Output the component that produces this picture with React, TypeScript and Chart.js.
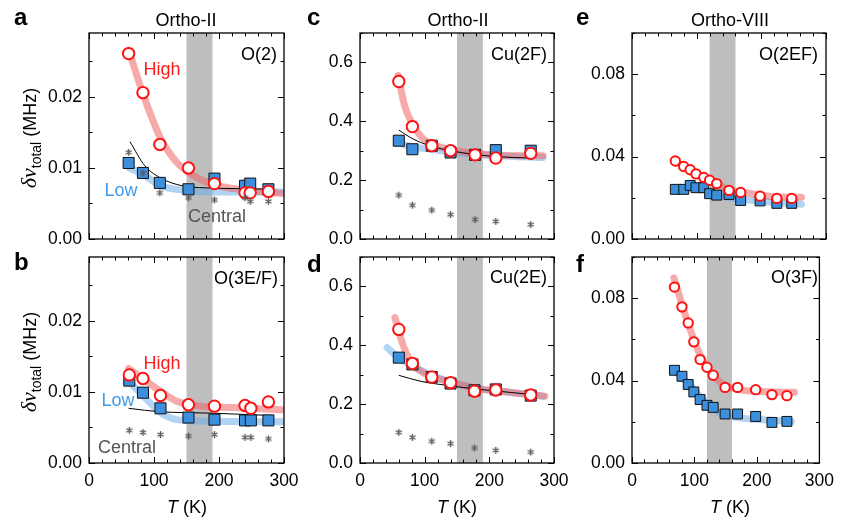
import React, { useEffect, useRef } from 'react';
import { Chart, registerables } from 'chart.js';

Chart.register(...registerables);

const FONT = '"Liberation Sans", Arial, Helvetica, sans-serif';

// ---------- Panel a : Ortho-II, O(2) ----------
const aT = [61, 83, 109, 153, 193, 240, 248, 276];
const aHigh = [0.0261, 0.0206, 0.0133, 0.01, 0.0078, 0.0065, 0.0065, 0.0067];
const aLow = [0.0107, 0.0093, 0.0079, 0.007, 0.0085, 0.0075, 0.0078, 0.007];
const aCentral = [0.0122, 0.0093, 0.0065, 0.0058, 0.0055, 0.0058, 0.0053, 0.0053];
const aFitT = [63, 86, 112, 143, 179, 225, 279];
const aFit = [0.0137, 0.0103, 0.0085, 0.0075, 0.0072, 0.0071, 0.007];
const aHighFitT = [61, 84, 110, 135, 161, 190, 222, 263, 297];
const aHighFit = [0.0266, 0.0202, 0.0142, 0.0108, 0.0089, 0.0077, 0.0071, 0.0067, 0.0064];
const aLowFitT = [62, 83, 110, 153, 200, 250, 297];
const aLowFit = [0.01, 0.0091, 0.0075, 0.0068, 0.0066, 0.0066, 0.0066];

// ---------- Panel b : Ortho-II, O(3E/F) ----------
const bT = [62, 83, 110, 153, 193, 240, 249, 276];
const bHigh = [0.0124, 0.0119, 0.0095, 0.0082, 0.008, 0.0081, 0.0077, 0.0086];
const bLow = [0.0116, 0.0099, 0.0077, 0.0064, 0.0061, 0.006, 0.006, 0.006];
const bCentral = [0.0046, 0.0043, 0.004, 0.0038, 0.004, 0.0036, 0.0036, 0.0034];
const bFitT = [61, 110, 150, 193, 278];
const bFit = [0.0077, 0.0072, 0.0071, 0.007, 0.0067];
const bHighFitT = [61, 84, 110, 135, 171, 222, 297];
const bHighFit = [0.0133, 0.0118, 0.0101, 0.0087, 0.008, 0.0078, 0.0075];
const bLowFitT = [61, 84, 110, 135, 171, 297];
const bLowFit = [0.0115, 0.0094, 0.0071, 0.0061, 0.0059, 0.0058];

// ---------- Panel c : Ortho-II, Cu(2F) ----------
const cT = [60, 81, 111, 140, 178, 210, 264];
const cHigh = [0.535, 0.382, 0.317, 0.3, 0.286, 0.275, 0.291];
const cLow = [0.334, 0.305, 0.317, 0.294, 0.286, 0.302, 0.3];
const cCentral = [0.149, 0.115, 0.098, 0.083, 0.066, 0.06, 0.049];
const cFitT = [60, 82, 108, 140, 175, 211, 263];
const cFit = [0.37, 0.34, 0.317, 0.3, 0.288, 0.28, 0.275];
const cHighFitT = [59, 69, 81, 98, 118, 149, 211, 283];
const cHighFit = [0.556, 0.453, 0.391, 0.34, 0.317, 0.3, 0.285, 0.283];
const cLowFitT = [60, 72, 111, 144, 211, 283];
const cLowFit = [0.33, 0.317, 0.305, 0.294, 0.283, 0.277];

// ---------- Panel d : Ortho-II, Cu(2E) ----------
const dT = [60, 81, 111, 140, 177, 210, 264];
const dHigh = [0.454, 0.338, 0.292, 0.273, 0.244, 0.248, 0.231];
const dLow = [0.358, 0.335, 0.292, 0.27, 0.247, 0.25, 0.229];
const dCentral = [0.104, 0.087, 0.074, 0.066, 0.051, 0.043, 0.037];
const dFitT = [60, 93, 134, 185, 237, 263];
const dFit = [0.298, 0.278, 0.264, 0.25, 0.239, 0.233];
const dHighFitT = [54, 67, 82, 98, 134, 185, 237, 286];
const dHighFit = [0.494, 0.398, 0.335, 0.307, 0.278, 0.252, 0.239, 0.227];
const dLowFitT = [42, 60, 82, 108, 144, 185, 237, 283];
const dLowFit = [0.392, 0.358, 0.329, 0.301, 0.273, 0.252, 0.239, 0.227];

// ---------- Panel e : Ortho-VIII, O(2EF) ----------
const eT = [67, 80, 90, 99, 111, 120, 131, 150, 168, 198, 224, 247];
const eHigh = [0.0379, 0.0352, 0.0336, 0.0316, 0.0299, 0.0285, 0.0269, 0.0236, 0.0226, 0.0208, 0.0197, 0.0197];
const eLow = [0.0241, 0.0241, 0.026, 0.0249, 0.0249, 0.022, 0.0213, 0.0216, 0.0187, 0.0185, 0.0173, 0.0173];
const eHighFitT = [67, 100, 130, 150, 180, 220, 262];
const eHighFit = [0.0376, 0.0318, 0.0268, 0.024, 0.0222, 0.0205, 0.0203];
const eLowFitT = [67, 100, 130, 160, 200, 262];
const eLowFit = [0.0245, 0.0246, 0.0213, 0.0196, 0.0183, 0.0169];

// ---------- Panel f : Ortho-VIII, O(3F) ----------
const fT = [68, 80, 90, 99, 109, 120, 130, 149, 169, 198, 224, 248];
const fHigh = [0.0854, 0.0758, 0.068, 0.0588, 0.0502, 0.0465, 0.0426, 0.0367, 0.0367, 0.0356, 0.0332, 0.0327];
const fLow = [0.045, 0.0421, 0.0381, 0.0345, 0.0308, 0.028, 0.027, 0.0238, 0.0238, 0.0226, 0.0197, 0.0202];
const fHighFitT = [67, 80, 95, 110, 131, 152, 198, 260];
const fHighFit = [0.0899, 0.077, 0.0632, 0.0518, 0.0421, 0.0372, 0.0348, 0.0343];
const fLowFitT = [67, 95, 116, 141, 172, 209, 255];
const fLowFit = [0.0452, 0.0372, 0.0299, 0.0243, 0.0219, 0.021, 0.0202];

const pts = (xs: number[], ys: number[]) => xs.map((x, i) => ({ x, y: ys[i] }));

type PanelDef = {
  box: [number, number, number, number];
  yMax: number;
  yStep: number;
  yMajor: number;
  yDec: number;
  band: [number, number];
  xLabels: boolean;
  small?: boolean;
  t: number[];
  high: number[];
  low: number[];
  central?: number[];
  fitT?: number[];
  fit?: number[];
  highFitT: number[];
  highFit: number[];
  lowFitT: number[];
  lowFit: number[];
};

const PANELS: PanelDef[] = [
  { box: [89, 33, 284, 239], yMax: 0.029, yStep: 0.005, yMajor: 0.01, yDec: 2, band: [150, 190], xLabels: false,
    t: aT, high: aHigh, low: aLow, central: aCentral, fitT: aFitT, fit: aFit,
    highFitT: aHighFitT, highFit: aHighFit, lowFitT: aLowFitT, lowFit: aLowFit },
  { box: [89, 257, 284, 463], yMax: 0.029, yStep: 0.005, yMajor: 0.01, yDec: 2, band: [150, 190], xLabels: true,
    t: bT, high: bHigh, low: bLow, central: bCentral, fitT: bFitT, fit: bFit,
    highFitT: bHighFitT, highFit: bHighFit, lowFitT: bLowFitT, lowFit: bLowFit },
  { box: [360, 33, 554, 239], yMax: 0.7, yStep: 0.1, yMajor: 0.2, yDec: 1, band: [150, 190], xLabels: false,
    t: cT, high: cHigh, low: cLow, central: cCentral, fitT: cFitT, fit: cFit,
    highFitT: cHighFitT, highFit: cHighFit, lowFitT: cLowFitT, lowFit: cLowFit },
  { box: [360, 257, 554, 463], yMax: 0.7, yStep: 0.1, yMajor: 0.2, yDec: 1, band: [150, 190], xLabels: true,
    t: dT, high: dHigh, low: dLow, central: dCentral, fitT: dFitT, fit: dFit,
    highFitT: dHighFitT, highFit: dHighFit, lowFitT: dLowFitT, lowFit: dLowFit },
  { box: [632, 33, 826, 239], yMax: 0.1, yStep: 0.02, yMajor: 0.04, yDec: 2, band: [120, 160], xLabels: false, small: true,
    t: eT, high: eHigh, low: eLow, highFitT: eHighFitT, highFit: eHighFit, lowFitT: eLowFitT, lowFit: eLowFit },
  { box: [632, 257, 826, 463], yMax: 0.1, yStep: 0.02, yMajor: 0.04, yDec: 2, band: [120, 160], xLabels: true, small: true,
    t: fT, high: fHigh, low: fLow, highFitT: fHighFitT, highFit: fHighFit, lowFitT: fLowFitT, lowFit: fLowFit },
];

const isMajor = (v: number, m: number) => Math.abs(v / m - Math.round(v / m)) < 1e-6;

// six-spoke asterisk marker, used as a Chart.js pointStyle image
function makeAsterisk(size: number, color: string) {
  const c = document.createElement('canvas');
  c.width = size;
  c.height = size;
  const g = c.getContext('2d') as CanvasRenderingContext2D;
  const r = size / 2 - 1;
  g.strokeStyle = color;
  g.lineWidth = 1.4;
  g.lineCap = 'butt';
  g.beginPath();
  for (let k = 0; k < 3; k++) {
    const a = Math.PI / 2 + (k * Math.PI) / 3;
    g.moveTo(size / 2 + r * Math.cos(a), size / 2 + r * Math.sin(a));
    g.lineTo(size / 2 - r * Math.cos(a), size / 2 - r * Math.sin(a));
  }
  g.stroke();
  return c;
}

const decoPlugin = {
  id: 'panelDeco',
  beforeDatasetsDraw(chart: any, _a: any, o: any) {
    const { ctx, chartArea: ca, scales } = chart;
    const x0 = scales.x.getPixelForValue(o.band[0]);
    const x1 = scales.x.getPixelForValue(o.band[1]);
    ctx.save();
    ctx.fillStyle = '#bebebe';
    ctx.fillRect(x0, ca.top, x1 - x0, ca.bottom - ca.top);
    ctx.restore();
  },
  afterDatasetsDraw(chart: any, _a: any, o: any) {
    const { ctx, chartArea: ca, scales } = chart;
    ctx.save();
    ctx.strokeStyle = '#000';
    ctx.lineWidth = 1;
    ctx.beginPath();
    for (const t of scales.x.ticks) {
      const px = Math.round(scales.x.getPixelForValue(t.value)) + 0.5;
      const len = t.value % 100 === 0 ? 6 : 3.5;
      ctx.moveTo(px, ca.bottom); ctx.lineTo(px, ca.bottom - len);
      ctx.moveTo(px, ca.top); ctx.lineTo(px, ca.top + len);
    }
    for (const t of scales.y.ticks) {
      const py = Math.round(scales.y.getPixelForValue(t.value)) + 0.5;
      const len = isMajor(t.value, o.yMajor) ? 6 : 3.5;
      ctx.moveTo(ca.left, py); ctx.lineTo(ca.left + len, py);
      ctx.moveTo(ca.right, py); ctx.lineTo(ca.right - len, py);
    }
    ctx.stroke();
    ctx.lineWidth = 1.3;
    ctx.strokeRect(ca.left, ca.top, ca.right - ca.left, ca.bottom - ca.top);
    ctx.restore();
  },
};

function ChartPanel({ p }: { p: PanelDef }) {
  const ref = useRef<HTMLCanvasElement | null>(null);
  useEffect(() => {
    const [L, Tp, R, B] = p.box;
    const cr = p.small ? 4.7 : 5.7;
    const sr = p.small ? 7 : 7.8;
    const datasets: any[] = [];
    if (p.central) {
      datasets.push({ label: 'Central', data: pts(p.t, p.central), showLine: false,
        pointStyle: makeAsterisk(9, '#5a5a5a'), pointRadius: 4.5 });
    } else {
      datasets.push({ label: 'none', data: [], showLine: false });
    }
    datasets.push({ label: 'High', data: pts(p.t, p.high), showLine: false, pointStyle: 'circle',
      pointRadius: cr, pointBackgroundColor: '#fff', pointBorderColor: '#ff1212', pointBorderWidth: 2 });
    datasets.push({ label: 'Low', data: pts(p.t, p.low), showLine: false, pointStyle: 'rect',
      pointRadius: sr, pointBackgroundColor: '#3b8fdc', pointBorderColor: '#111', pointBorderWidth: 1 });
    if (p.fitT && p.fit) {
      datasets.push({ label: 'fit', data: pts(p.fitT, p.fit), borderColor: '#000', borderWidth: 1,
        pointRadius: 0, cubicInterpolationMode: 'monotone', fill: false });
    }
    datasets.push({ label: 'High fit', data: pts(p.highFitT, p.highFit), borderColor: 'rgba(240,100,100,0.55)',
      borderWidth: 7, pointRadius: 0, borderCapStyle: 'round', cubicInterpolationMode: 'monotone', fill: false });
    datasets.push({ label: 'Low fit', data: pts(p.lowFitT, p.lowFit), borderColor: 'rgba(100,170,235,0.5)',
      borderWidth: 7, pointRadius: 0, borderCapStyle: 'round', cubicInterpolationMode: 'monotone', fill: false });

    const tickFont = { family: FONT, size: 17.5 };
    const chart = new Chart(ref.current as HTMLCanvasElement, {
      type: 'line',
      data: { datasets },
      options: {
        animation: false,
        responsive: false,
        events: [],
        layout: { padding: { left: L - 60, right: 842 - R, top: Tp, bottom: 517 - B - 30 } },
        plugins: {
          legend: { display: false },
          tooltip: { enabled: false },
          panelDeco: { band: p.band, yMajor: p.yMajor },
        } as any,
        scales: {
          x: {
            type: 'linear', min: 0, max: 300,
            afterFit: (s: any) => { s.height = 30; },
            grid: { display: false, drawTicks: false },
            border: { display: false },
            ticks: {
              stepSize: 20, autoSkip: false, maxRotation: 0, padding: 8, color: '#000', font: tickFont,
              callback: (v: any) => (p.xLabels && Math.round(v) % 100 === 0 ? String(Math.round(v)) : ''),
            },
          },
          y: {
            type: 'linear', min: 0, max: p.yMax,
            afterFit: (s: any) => { s.width = 60; },
            grid: { display: false, drawTicks: false },
            border: { display: false },
            ticks: {
              stepSize: p.yStep, includeBounds: false, autoSkip: false, padding: 7, color: '#000', font: tickFont,
              callback: (v: any) => (isMajor(v, p.yMajor) ? Number(v).toFixed(p.yDec) : ''),
            },
          },
        },
      } as any,
      plugins: [decoPlugin],
    });
    return () => chart.destroy();
  }, [p]);
  return <canvas ref={ref} width={842} height={517} style={{ position: 'absolute', left: 0, top: 0 }} />;
}

function Txt({ x, y, align = 'center', style, children }: any) {
  const tx = align === 'center' ? '-50%' : align === 'right' ? '-100%' : '0';
  return (
    <div style={{ position: 'absolute', left: x, top: y, transform: `translate(${tx},-50%)`, whiteSpace: 'nowrap',
      lineHeight: 1, fontFamily: FONT, fontSize: 18, color: '#000', ...style }}>
      {children}
    </div>
  );
}

function YTitle({ x, y }: { x: number; y: number }) {
  return (
    <div style={{ position: 'absolute', left: x, top: y, transform: 'translate(-50%,-50%) rotate(-90deg)',
      whiteSpace: 'nowrap', lineHeight: 1, fontFamily: FONT, fontSize: 18, color: '#000' }}>
      <span style={{ fontFamily: '"Liberation Serif", "DejaVu Serif", serif', fontStyle: 'italic', fontSize: 22 }}>δν</span>
      <span style={{ fontSize: 14, position: 'relative', top: 5 }}>total</span>
      <span> (MHz)</span>
    </div>
  );
}

function XTitle({ x, y }: { x: number; y: number }) {
  return (
    <Txt x={x} y={y}>
      <i>T</i> (K)
    </Txt>
  );
}

const letterStyle = { fontWeight: 'bold', fontSize: 24 };
const highStyle = { color: '#ff1a1a' };
const lowStyle = { color: '#3f9be6' };
const centralStyle = { color: '#555' };

export default function App() {
  return (
    <div style={{ position: 'absolute', left: 0, top: 0, width: 842, height: 517, background: '#fff', overflow: 'hidden' }}>
      {PANELS.map((p, i) => (
        <ChartPanel key={i} p={p} />
      ))}
      <Txt x={14} y={17} align="left" style={letterStyle}>a</Txt>
      <Txt x={14} y={262} align="left" style={letterStyle}>b</Txt>
      <Txt x={307} y={17} align="left" style={letterStyle}>c</Txt>
      <Txt x={307} y={264} align="left" style={letterStyle}>d</Txt>
      <Txt x={576} y={17} align="left" style={letterStyle}>e</Txt>
      <Txt x={576} y={264} align="left" style={letterStyle}>f</Txt>

      <Txt x={186} y={19.5}>Ortho-II</Txt>
      <Txt x={458} y={19.5}>Ortho-II</Txt>
      <Txt x={730} y={19.5}>Ortho-VIII</Txt>

      <Txt x={277} y={54} align="right">O(2)</Txt>
      <Txt x={278} y={278} align="right">O(3E/F)</Txt>
      <Txt x={547} y={54} align="right">Cu(2F)</Txt>
      <Txt x={547} y={277} align="right">Cu(2E)</Txt>
      <Txt x={818} y={54} align="right">O(2EF)</Txt>
      <Txt x={818} y={277} align="right">O(3F)</Txt>

      <Txt x={162} y={69} style={highStyle}>High</Txt>
      <Txt x={121} y={190} style={lowStyle}>Low</Txt>
      <Txt x={217} y={216} style={centralStyle}>Central</Txt>
      <Txt x={162} y={363} style={highStyle}>High</Txt>
      <Txt x={118} y={400} style={lowStyle}>Low</Txt>
      <Txt x={127} y={447} style={centralStyle}>Central</Txt>

      <YTitle x={29} y={138} />
      <YTitle x={29} y={362} />

      <XTitle x={187} y={507} />
      <XTitle x={457} y={507} />
      <XTitle x={730} y={507} />
    </div>
  );
}
